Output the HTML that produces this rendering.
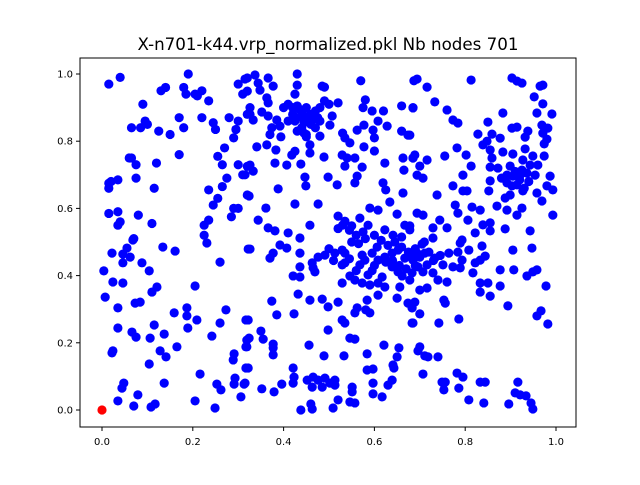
<!DOCTYPE html>
<html><head><meta charset="utf-8"><style>
body{margin:0;background:#fff;}
svg text{font-family:"DejaVu Sans","Liberation Sans",sans-serif;}
</style></head><body>
<svg id="chart" width="640" height="480" xmlns="http://www.w3.org/2000/svg">
<rect width="640" height="480" fill="#fff"/>
<text x="328" y="50" font-size="16.7" text-anchor="middle">X-n701-k44.vrp_normalized.pkl Nb nodes 701</text>
<g id="marks"></g>
<g id="axes"></g>
</svg>
<script>
const xTicks=[0,0.2,0.4,0.6,0.8,1.0];
const yTicks=[0,0.2,0.4,0.6,0.8,1.0];
const xTickLabels=["0.0","0.2","0.4","0.6","0.8","1.0"];
const yTickLabels=["0.0","0.2","0.4","0.6","0.8","1.0"];
const depot=[0,0];
const customers=[
[.015,.97],[.04,.99],[.09,.91],[.13,.95],[.14,.96],[.18,.96],[.185,.94],[.19,1.0],[.205,.94],[.21,.935],[.22,.95],[.235,.92],
[.065,.84],[.085,.84],[.095,.86],[.10,.85],[.125,.83],[.15,.82],[.17,.87],[.18,.84],[.22,.87],[.245,.855],[.25,.835],
[.28,.87],[.30,.86],[.295,.835],[.29,.81],[.27,.78],[.30,.97],[.315,.985],[.31,.94],[.32,.88],
[.06,.75],[.065,.75],[.075,.73],[.12,.735],[.17,.76],[.255,.755],[.265,.73],[.30,.73],[.32,.725],[.31,.70],
[.015,.675],[.02,.68],[.035,.685],[.015,.66],[.075,.69],[.115,.66],[.235,.655],[.255,.63],[.245,.61],[.265,.665],[.275,.69],[.32,.64],
[.285,.575],[.29,.60],[.30,.60],[.015,.585],[.035,.59],[.04,.56],[.035,.55],[.08,.58],[.11,.555],[.07,.51],[.235,.565],[.225,.55],[.225,.52],
[.32,.988],[.337,.997],[.344,.973],[.366,.988],[.377,.964],[.32,.949],[.348,.952],[.363,.929],[.366,.914],
[.43,1.0],[.43,.967],[.425,.94],[.485,.964],[.49,.961],[.57,.98],[.687,.98],
[.40,.90],[.41,.91],[.42,.90],[.43,.905],[.44,.89],[.45,.90],[.42,.88],[.43,.87],[.44,.875],[.45,.86],[.46,.88],[.47,.89],[.48,.90],[.46,.85],[.47,.84],[.48,.86],[.49,.92],[.50,.91],[.41,.86],[.44,.84],[.45,.82],[.43,.83],
[.435,.895],[.455,.875],[.465,.865],[.425,.86],[.445,.855],[.475,.87],
[.326,.90],[.326,.88],[.352,.887],[.366,.875],[.385,.863],[.333,.863],[.392,.845],[.374,.84],[.37,.82],
[.52,.914],[.507,.875],[.502,.848],[.445,.824],[.45,.813],[.48,.815],[.394,.813],[.53,.824],[.535,.81],[.546,.795],
[.562,.833],[.577,.848],[.58,.923],[.575,.90],[.595,.89],[.62,.89],[.597,.833],[.60,.81],[.608,.86],[.628,.845],[.66,.905],[.685,.90],[.66,.83],[.674,.818],
[.341,.783],[.363,.789],[.383,.774],[.418,.759],[.425,.77],[.458,.789],[.458,.765],[.489,.753],
[.529,.759],[.54,.75],[.557,.75],[.535,.726],[.573,.723],[.577,.783],[.60,.771],[.623,.735],[.663,.75],[.685,.75],[.665,.714],
[.381,.735],[.407,.729],[.438,.732],[.326,.729],[.333,.711],[.315,.70],[.498,.693],[.518,.67],[.447,.693],[.449,.667],[.562,.696],[.557,.676],
[.388,.658],[.324,.637],[.425,.613],[.476,.613],[.361,.601],[.619,.676],[.625,.655],[.663,.646],[.634,.619],[.59,.601],[.608,.595],[.65,.583],
[.344,.565],[.366,.542],[.381,.533],[.41,.527],[.436,.512],[.458,.55],[.52,.577],[.535,.562],[.55,.548],[.568,.571],[.586,.55],[.623,.536],[.641,.52],[.667,.55],[.678,.536],
[.694,.985],[.716,.961],[.813,.982],[.903,.988],[.914,.979],[.925,.973],[.965,.964],[.971,.967],[.952,.932],[.685,.899],[.733,.917],[.76,.893],[.773,.863],[.784,.854],[.85,.857],[.883,.884],[.971,.911],[.958,.884],[.991,.881],[.903,.839],[.914,.842],[.938,.830],[.932,.812],[.828,.821],[.859,.821],[.877,.809],[.969,.848],[.982,.839],[.971,.824],[.98,.806],[.974,.792],[.678,.818],
[.689,.759],[.685,.75],[.70,.726],[.716,.744],[.755,.756],[.782,.78],[.802,.759],[.813,.726],[.795,.699],[.694,.699],[.707,.69],[.773,.667],[.738,.64],[.795,.652],[.804,.652],
[.839,.789],[.848,.80],[.855,.774],[.859,.75],[.883,.768],[.905,.762],[.932,.777],[.949,.756],[.974,.756],[.927,.744],[.855,.723],[.872,.72],[.899,.726],[.925,.714],[.943,.729],[.96,.729],
[.892,.699],[.905,.696],[.921,.699],[.936,.705],[.954,.699],[.987,.696],[.855,.682],[.852,.652],[.892,.676],[.903,.667],[.914,.67],[.899,.64],[.927,.652],[.958,.646],[.969,.622],[.98,.667],[.993,.655],
[.91,.71],[.92,.685],[.94,.68],[.88,.69],[.93,.66],
[.888,.631],[.870,.607],[.892,.595],[.925,.601],[.914,.58],[.993,.58],[.778,.61],[.784,.586],[.815,.604],[.833,.595],[.806,.565],[.744,.565],[.76,.542],[.729,.542],[.694,.586],[.707,.58],[.839,.551],[.855,.557],[.855,.533],[.822,.527],[.888,.539],[.943,.533],[.678,.548],[.729,.512],[.793,.506],
[.068,.506],[.134,.485],[.161,.473],[.231,.497],[.022,.467],[.046,.464],[.055,.482],[.062,.455],[.046,.438],[.088,.438],[.104,.414],[.004,.414],[.024,.381],[.046,.378],[.11,.351],[.121,.366],[.205,.369],[.26,.44],[.322,.479],
[.007,.336],[.035,.304],[.073,.318],[.084,.321],[.159,.289],[.187,.304],[.187,.28],[.209,.268],[.189,.244],[.273,.298],[.26,.259],[.317,.268],[.035,.244],[.066,.232],[.075,.217],[.115,.253],[.137,.226],[.106,.214],[.128,.176],[.141,.158],[.165,.188],[.022,.17],[.024,.176],[.104,.137],
[.242,.22],[.291,.167],[.289,.149],[.319,.208],[.317,.188],[.317,.125],[.216,.107],[.048,.08],[.044,.065],[.137,.08],[.079,.045],[.035,.027],[.07,.012],[.108,.009],[.117,.018],[.205,.027],[.249,.006],[.253,.077],[.262,.06],[.293,.095],[.291,.077],[.313,.077],[.306,.039],
[.326,.479],[.370,.452],[.377,.467],[.392,.491],[.407,.482],[.436,.467],[.436,.426],[.421,.399],[.436,.396],[.465,.423],[.469,.411],[.463,.438],[.476,.455],[.491,.461],[.513,.467],[.529,.476],[.535,.467],[.529,.432],[.535,.438],[.573,.461],[.568,.432],[.579,.446],[.595,.467],[.606,.485],[.608,.446],[.623,.455],[.639,.467],[.652,.476],[.667,.452],[.683,.461],[.639,.426],[.652,.411],[.661,.399],[.678,.387],[.586,.402],[.617,.396],
[.52,.54],[.53,.55],[.545,.535],[.56,.52],[.575,.53],[.55,.50],[.565,.495],[.58,.51],[.60,.52],[.615,.505],[.63,.49],[.645,.50],[.66,.485],[.675,.47],[.69,.48],[.70,.455],[.72,.47],[.73,.445],[.745,.46],[.625,.44],[.64,.445],[.655,.43],[.67,.42],[.69,.43],[.60,.43],[.595,.415],[.56,.415],[.545,.45],[.51,.445],[.50,.48],[.66,.515],[.71,.50],
[.529,.378],[.546,.399],[.557,.387],[.573,.378],[.590,.372],[.608,.378],[.623,.366],[.608,.342],[.656,.366],[.650,.333],[.674,.318],[.683,.304],[.683,.259],
[.432,.345],[.458,.327],[.485,.330],[.498,.307],[.520,.321],[.374,.324],[.385,.283],[.423,.286],[.584,.327],[.581,.298],[.590,.289],[.562,.304],[.557,.289],[.529,.268],[.535,.259],[.498,.238],
[.322,.268],[.350,.235],[.355,.211],[.324,.214],[.319,.188],[.377,.196],[.377,.185],[.377,.164],[.456,.193],[.489,.161],[.533,.161],[.546,.214],[.557,.211],[.584,.167],[.621,.193],[.654,.185],[.650,.158],[.641,.134],[.643,.125],[.584,.119],[.597,.122],
[.421,.125],[.423,.098],[.421,.080],[.396,.077],[.379,.054],[.352,.063],[.322,.125],[.315,.080],[.452,.089],[.465,.098],[.476,.089],[.491,.095],[.502,.080],[.513,.089],[.463,.068],[.485,.068],[.513,.074],[.551,.068],[.551,.054],[.597,.080],[.639,.089],[.630,.074],[.597,.048],[.617,.039],[.520,.030],[.509,.006],[.546,.024],[.557,.021],[.460,.018],[.463,.003],[.438,0],
[.705,.494],[.694,.467],[.711,.467],[.685,.446],[.696,.426],[.716,.432],[.683,.408],[.707,.411],[.729,.408],[.740,.387],[.760,.381],[.700,.357],[.716,.363],[.733,.452],[.751,.432],[.773,.426],[.789,.423],[.793,.446],[.764,.467],[.784,.470],[.789,.497],[.808,.476],[.837,.488],[.844,.458],[.822,.438],[.833,.446],[.817,.408],[.833,.378],[.850,.378],[.833,.351],[.855,.339],[.877,.369],[.877,.417],[.907,.417],[.905,.476],[.947,.482],[.936,.399],[.949,.411],[.958,.417],[.978,.369],[.894,.310],
[.689,.321],[.683,.304],[.700,.286],[.685,.259],[.753,.327],[.756,.318],[.742,.259],[.786,.271],[.700,.188],[.696,.176],[.711,.161],[.718,.158],[.740,.158],[.707,.107],[.749,.083],[.756,.083],[.753,.060],[.782,.110],[.795,.098],[.786,.065],[.808,.030],[.833,.083],[.844,.083],[.841,.021],[.896,.018],[.916,.083],[.910,.051],[.921,.045],[.934,.042],[.945,.021],[.949,.003],[.958,.280],[.967,.295],[.982,.256]
];
const svg=document.getElementById('chart');
const NS='http://www.w3.org/2000/svg';
const L=80,R=576,T=58,B=427;
function xs(v){return 102+v*454;}
function ys(v){return 410-v*336;}
const marks=document.getElementById('marks');
customers.forEach(p=>{
  const c=document.createElementNS(NS,'circle');
  c.setAttribute('cx',xs(p[0]));c.setAttribute('cy',ys(p[1]));c.setAttribute('r',4.6);c.setAttribute('fill','#0000ff');
  
  
  marks.appendChild(c);
});
const d=document.createElementNS(NS,'circle');
d.setAttribute('cx',xs(depot[0]));d.setAttribute('cy',ys(depot[1]));d.setAttribute('r',4.6);d.setAttribute('fill','#ff0000');


marks.appendChild(d);
const axes=document.getElementById('axes');
const frame=document.createElementNS(NS,'rect');
frame.setAttribute('x',L);frame.setAttribute('y',T);frame.setAttribute('width',R-L);frame.setAttribute('height',B-T);
frame.setAttribute('fill','none');frame.setAttribute('stroke','#000');frame.setAttribute('stroke-width','1');


axes.appendChild(frame);
xTicks.forEach((v,i)=>{
  const x=xs(v);
  const l=document.createElementNS(NS,'line');
  l.setAttribute('x1',x);l.setAttribute('x2',x);l.setAttribute('y1',B);l.setAttribute('y2',B+4);l.setAttribute('stroke','#000');
  
  
  axes.appendChild(l);
  const t=document.createElementNS(NS,'text');
  t.setAttribute('x',x);t.setAttribute('y',B+18);t.setAttribute('font-size','10');t.setAttribute('text-anchor','middle');
  t.textContent=xTickLabels[i];
  
  
  axes.appendChild(t);
});
yTicks.forEach((v,i)=>{
  const y=ys(v);
  const l=document.createElementNS(NS,'line');
  l.setAttribute('x1',L-4);l.setAttribute('x2',L);l.setAttribute('y1',y);l.setAttribute('y2',y);l.setAttribute('stroke','#000');
  
  
  axes.appendChild(l);
  const t=document.createElementNS(NS,'text');
  t.setAttribute('x',L-7);t.setAttribute('y',y+3.5);t.setAttribute('font-size','10');t.setAttribute('text-anchor','end');
  t.textContent=yTickLabels[i];
  
  
  axes.appendChild(t);
});
</script>
</body></html>
